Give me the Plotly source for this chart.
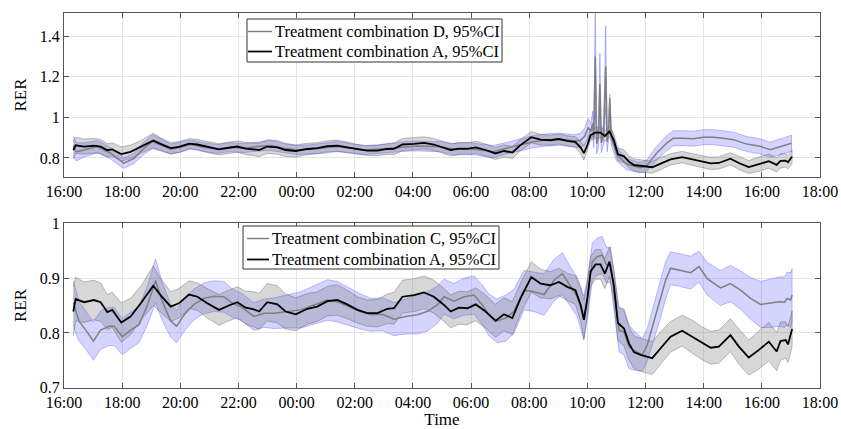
import numpy as np
import pandas as pd
import plotly.graph_objects as go

# ---------------- data (hours after 16:00 on day 1) ----------------
t_A = [0.32, 0.40, 0.69, 1.03, 1.26, 1.49, 1.66, 1.97, 2.29, 2.64, 3.07, 3.32, 3.67, 3.95, 4.30,
       4.59, 4.93, 5.33, 5.67, 5.96, 6.25, 6.53, 6.71, 6.99, 7.34, 7.62, 7.97, 8.37, 8.71, 9.06,
       9.40, 9.74, 10.09, 10.43, 10.78, 11.12, 11.35, 11.64, 12.04, 12.38, 12.72, 13.07, 13.30,
       13.58, 13.87, 14.16, 14.50, 14.84, 15.13, 15.42, 15.70, 16.07, 16.39, 16.73, 17.02, 17.31,
       17.59, 17.77, 17.88, 18.00, 18.11, 18.28, 18.45, 18.60, 18.76, 18.91, 19.05, 19.26, 19.43,
       19.60, 19.83, 20.23, 20.52, 20.86, 21.26, 21.61, 21.95, 22.24, 22.52, 22.92, 23.21, 23.55,
       23.90, 24.24, 24.51, 24.64, 24.82, 24.90, 25.04]
rer_A = [0.839, 0.862, 0.856, 0.860, 0.856, 0.838, 0.842, 0.819, 0.830, 0.854, 0.886, 0.869, 0.848,
         0.854, 0.870, 0.866, 0.854, 0.842, 0.850, 0.856, 0.846, 0.843, 0.839, 0.856, 0.852, 0.839,
         0.834, 0.844, 0.848, 0.858, 0.860, 0.852, 0.842, 0.836, 0.836, 0.844, 0.845, 0.866, 0.869,
         0.874, 0.866, 0.851, 0.839, 0.846, 0.845, 0.852, 0.839, 0.822, 0.834, 0.827, 0.863, 0.902,
         0.890, 0.887, 0.893, 0.884, 0.878, 0.851, 0.824, 0.863, 0.912, 0.925, 0.925, 0.908, 0.930,
         0.887, 0.818, 0.808, 0.781, 0.765, 0.760, 0.754, 0.772, 0.793, 0.804, 0.793, 0.781, 0.773,
         0.775, 0.796, 0.775, 0.755, 0.769, 0.784, 0.766, 0.785, 0.787, 0.779, 0.807]
ci_A = [0.045, 0.040, 0.037, 0.036, 0.035, 0.032, 0.032, 0.036, 0.033, 0.031, 0.036, 0.030, 0.027,
        0.027, 0.025, 0.025, 0.027, 0.028, 0.028, 0.028, 0.030, 0.032, 0.033, 0.034, 0.034, 0.032,
        0.030, 0.028, 0.027, 0.027, 0.028, 0.026, 0.024, 0.024, 0.025, 0.027, 0.029, 0.030, 0.030,
        0.030, 0.030, 0.030, 0.030, 0.030, 0.030, 0.030, 0.030, 0.030, 0.030, 0.030, 0.028, 0.028,
        0.026, 0.025, 0.025, 0.025, 0.026, 0.030, 0.035, 0.030, 0.027, 0.027, 0.027, 0.027, 0.027,
        0.030, 0.032, 0.032, 0.030, 0.030, 0.030, 0.030, 0.030, 0.028, 0.028, 0.030, 0.030, 0.030,
        0.030, 0.030, 0.032, 0.032, 0.035, 0.035, 0.035, 0.035, 0.033, 0.033, 0.033]

t_C = [0.32, 0.40, 0.52, 0.75, 1.01, 1.26, 1.55, 1.72, 2.01, 2.29, 2.58, 2.87, 3.15, 3.38, 3.67,
       3.87, 4.13, 4.47, 4.81, 5.16, 5.50, 5.79, 6.08, 6.53, 6.88, 7.22, 7.68, 8.14, 8.60, 9.06,
       9.40, 9.80, 10.20, 10.55, 10.95, 11.35, 11.75, 12.15, 12.49, 12.84, 13.07, 13.41, 13.76,
       14.10, 14.39, 14.61, 14.90, 15.19, 15.47, 15.82, 16.16, 16.51, 16.85, 17.14, 17.42, 17.65,
       17.88, 18.02, 18.17, 18.34, 18.51, 18.66, 18.80, 18.94, 19.09, 19.26, 19.43, 19.60, 19.89,
       20.06, 20.29, 20.52, 20.69, 20.86, 21.15, 21.55, 21.84, 22.12, 22.58, 22.92, 23.27, 23.61,
       23.96, 24.30, 24.59, 24.78, 24.87, 24.99, 25.04]
rer_C = [0.855, 0.840, 0.821, 0.805, 0.785, 0.805, 0.812, 0.812, 0.793, 0.805, 0.815, 0.851, 0.895,
         0.857, 0.822, 0.812, 0.833, 0.852, 0.863, 0.867, 0.866, 0.854, 0.848, 0.830, 0.836, 0.836,
         0.839, 0.842, 0.851, 0.860, 0.857, 0.848, 0.839, 0.833, 0.834, 0.825, 0.830, 0.833, 0.839,
         0.851, 0.866, 0.858, 0.866, 0.869, 0.851, 0.833, 0.822, 0.827, 0.839, 0.878, 0.875, 0.870,
         0.896, 0.908, 0.884, 0.866, 0.827, 0.869, 0.930, 0.939, 0.942, 0.924, 0.924, 0.869, 0.805,
         0.802, 0.775, 0.768, 0.760, 0.778, 0.821, 0.863, 0.896, 0.918, 0.915, 0.910, 0.921, 0.899,
         0.882, 0.890, 0.878, 0.863, 0.852, 0.854, 0.857, 0.856, 0.863, 0.860, 0.869]
ci_C = [0.040, 0.040, 0.036, 0.035, 0.035, 0.035, 0.035, 0.035, 0.033, 0.033, 0.033, 0.036, 0.040,
        0.035, 0.030, 0.030, 0.030, 0.028, 0.028, 0.028, 0.028, 0.026, 0.025, 0.025, 0.026, 0.028,
        0.030, 0.033, 0.035, 0.037, 0.037, 0.035, 0.032, 0.030, 0.030, 0.030, 0.032, 0.035, 0.036,
        0.034, 0.032, 0.032, 0.034, 0.035, 0.036, 0.038, 0.040, 0.042, 0.040, 0.036, 0.036, 0.038,
        0.038, 0.038, 0.036, 0.036, 0.040, 0.036, 0.034, 0.034, 0.034, 0.032, 0.032, 0.036, 0.040,
        0.042, 0.040, 0.036, 0.030, 0.030, 0.033, 0.035, 0.034, 0.030, 0.030, 0.030, 0.028, 0.030,
        0.032, 0.033, 0.035, 0.038, 0.042, 0.044, 0.045, 0.046, 0.048, 0.050, 0.048]

t_D = [0.32, 0.42, 0.69, 1.15, 1.60, 1.89, 2.06, 2.41, 2.75, 3.04, 3.32, 3.67, 4.01, 4.36, 4.81,
       5.27, 5.73, 6.19, 6.65, 7.11, 7.57, 8.02, 8.48, 8.94, 9.40, 9.86, 10.32, 10.78, 11.23, 11.69,
       12.15, 12.61, 12.93, 13.39, 13.85, 14.31, 14.76, 15.22, 15.68, 16.14, 16.60, 17.06, 17.52,
       17.75, 17.90, 18.03, 18.12, 18.18, 18.22, 18.27, 18.32, 18.38, 18.43, 18.48, 18.56, 18.63,
       18.68, 18.73, 18.77, 18.82, 18.90, 19.00, 19.20, 19.35, 19.58, 19.81, 20.04, 20.38, 20.72,
       20.95, 21.30, 21.64, 21.99, 22.33, 22.67, 23.02, 23.48, 23.93, 24.28, 24.51, 24.85, 25.02]
rer_D = [0.860, 0.830, 0.839, 0.856, 0.823, 0.790, 0.774, 0.798, 0.848, 0.880, 0.864, 0.843, 0.853,
         0.866, 0.853, 0.844, 0.853, 0.848, 0.856, 0.861, 0.848, 0.839, 0.843, 0.848, 0.856, 0.848,
         0.839, 0.843, 0.848, 0.856, 0.859, 0.856, 0.856, 0.843, 0.848, 0.839, 0.831, 0.848, 0.864,
         0.880, 0.889, 0.892, 0.885, 0.885, 0.905, 0.950, 0.930, 0.970, 0.900, 1.300, 0.870, 0.900,
         1.165, 0.875, 0.920, 1.250, 0.880, 0.930, 1.095, 0.905, 0.870, 0.820, 0.790, 0.770, 0.760,
         0.752, 0.762, 0.823, 0.872, 0.897, 0.897, 0.895, 0.902, 0.902, 0.897, 0.890, 0.868, 0.858,
         0.840, 0.850, 0.865, 0.872]
ci_D = [0.050, 0.045, 0.035, 0.030, 0.028, 0.026, 0.025, 0.025, 0.030, 0.035, 0.030, 0.025, 0.025,
        0.022, 0.022, 0.022, 0.022, 0.022, 0.022, 0.025, 0.022, 0.022, 0.022, 0.025, 0.025, 0.022,
        0.022, 0.022, 0.022, 0.024, 0.024, 0.024, 0.025, 0.028, 0.028, 0.030, 0.030, 0.028, 0.030,
        0.030, 0.030, 0.030, 0.030, 0.035, 0.040, 0.045, 0.040, 0.060, 0.050, 0.250, 0.050, 0.050,
        0.150, 0.050, 0.050, 0.200, 0.050, 0.040, 0.020, 0.040, 0.040, 0.035, 0.030, 0.028, 0.026,
        0.026, 0.028, 0.035, 0.037, 0.037, 0.037, 0.037, 0.037, 0.037, 0.037, 0.037, 0.037, 0.037,
        0.037, 0.038, 0.040, 0.040]

labels_top = ["Treatment combination D, 95%CI", "Treatment combination A, 95%CI"]
labels_bot = ["Treatment combination C, 95%CI", "Treatment combination A, 95%CI"]

yticks_top = [0.8, 1.0, 1.2, 1.4]
yticklabels_top = ["0.8", "1", "1.2", "1.4"]
yticks_bot = [0.7, 0.8, 0.9, 1.0]
yticklabels_bot = ["0.7", "0.8", "0.9", "1"]

# ---------------- helpers ----------------
BASE = pd.Timestamp("2000-01-01 16:00")
FONT = "Liberation Serif, Times New Roman, serif"


def to_time(h):
    return BASE + pd.to_timedelta(np.asarray(h, dtype=float), unit="h")


def band(t, m, hw, fill, edge, xa, ya):
    t = np.asarray(t, float)
    m = np.asarray(m, float)
    hw = np.asarray(hw, float)
    x = to_time(np.concatenate([t, t[::-1]]))
    y = np.concatenate([m + hw, (m - hw)[::-1]])
    return go.Scatter(x=x, y=y, mode="lines", fill="toself", fillcolor=fill,
                      line=dict(color=edge, width=0.7), hoverinfo="skip",
                      showlegend=False, xaxis=xa, yaxis=ya)


def line(t, m, color, width, name, xa, ya):
    return go.Scatter(x=to_time(t), y=m, mode="lines", line=dict(color=color, width=width),
                      name=name, xaxis=xa, yaxis=ya, showlegend=False)


BLUE_FILL = "rgba(60,60,255,0.22)"
BLUE_EDGE = "rgba(60,60,255,0.45)"
GRAY_FILL = "rgba(110,110,110,0.28)"
GRAY_EDGE = "rgba(60,60,60,0.45)"
GRAY_LINE = "#7f7f7f"
W_GRAY, W_BLACK = 1.5, 1.8

fig = go.Figure()
# top panel
fig.add_trace(band(t_D, rer_D, ci_D, BLUE_FILL, BLUE_EDGE, "x", "y"))
fig.add_trace(band(t_A, rer_A, ci_A, GRAY_FILL, GRAY_EDGE, "x", "y"))
fig.add_trace(line(t_D, rer_D, GRAY_LINE, W_GRAY, labels_top[0], "x", "y"))
fig.add_trace(line(t_A, rer_A, "black", W_BLACK, labels_top[1], "x", "y"))
# bottom panel
fig.add_trace(band(t_C, rer_C, ci_C, BLUE_FILL, BLUE_EDGE, "x2", "y2"))
fig.add_trace(band(t_A, rer_A, ci_A, GRAY_FILL, GRAY_EDGE, "x2", "y2"))
fig.add_trace(line(t_C, rer_C, GRAY_LINE, W_GRAY, labels_bot[0], "x2", "y2"))
fig.add_trace(line(t_A, rer_A, "black", W_BLACK, labels_bot[1], "x2", "y2"))


# ---------------- legends (MATLAB-style boxes, paper coordinates) ----------------
def legend_box(box, rows_y, line_x, text_x, labels, colors, widths):
    shapes = [dict(type="rect", xref="paper", yref="paper", x0=box[0], x1=box[1],
                   y0=box[2], y1=box[3], fillcolor="white",
                   line=dict(color="#333333", width=1), layer="above")]
    annots = []
    for yy, lab, col, w in zip(rows_y, labels, colors, widths):
        shapes.append(dict(type="line", xref="paper", yref="paper", x0=line_x[0], x1=line_x[1],
                           y0=yy, y1=yy, line=dict(color=col, width=w), layer="above"))
        annots.append(dict(xref="paper", yref="paper", x=text_x, y=yy, text=lab,
                           showarrow=False, xanchor="left", yanchor="middle",
                           font=dict(family=FONT, size=16.5, color="black")))
    return shapes, annots


s1, a1 = legend_box([0.2421, 0.5794, 0.8693, 0.984], [0.9507, 0.8973], [0.2434, 0.2751], 0.2765,
                    labels_top, [GRAY_LINE, "black"], [W_GRAY, W_BLACK])
s2, a2 = legend_box([0.2368, 0.5754, 0.3173, 0.432], [0.3987, 0.3427], [0.2421, 0.2712], 0.2725,
                    labels_bot, [GRAY_LINE, "black"], [W_GRAY, W_BLACK])

xrange = [BASE, BASE + pd.Timedelta(hours=26)]
common_x = dict(type="date", range=xrange, dtick=2 * 3600 * 1000, tick0=BASE,
                tickformat="%H:%M", showgrid=True, gridcolor="#e6e6e6", gridwidth=1,
                showline=True, linecolor="#555555", linewidth=1, mirror="ticks",
                ticks="inside", ticklen=5, tickcolor="#555555", zeroline=False,
                automargin=False,
                tickfont=dict(family=FONT, size=16, color="black"))
common_y = dict(showgrid=True, gridcolor="#e6e6e6", gridwidth=1,
                showline=True, linecolor="#555555", linewidth=1, mirror="ticks",
                ticks="inside", ticklen=5, tickcolor="#555555", zeroline=False,
                automargin=False,
                tickfont=dict(family=FONT, size=16, color="black"),
                title=dict(text="RER", font=dict(family=FONT, size=17, color="black"), standoff=8))

fig.update_layout(
    width=841, height=429,
    margin=dict(l=64, r=21, t=13, b=41),
    paper_bgcolor="white", plot_bgcolor="white",
    font=dict(family=FONT, size=16, color="black"),
    xaxis=dict(common_x, domain=[0, 1], anchor="y"),
    yaxis=dict(common_y, domain=[0.5627, 1.0], anchor="x", range=[0.706, 1.514],
               tickvals=yticks_top, ticktext=yticklabels_top),
    xaxis2=dict(common_x, domain=[0, 1], anchor="y2",
                title=dict(text="Time", font=dict(family=FONT, size=17, color="black"), standoff=4)),
    yaxis2=dict(common_y, domain=[0.0, 0.44], anchor="x2", range=[0.6995, 1.0005],
                tickvals=yticks_bot, ticktext=yticklabels_bot),
    shapes=s1 + s2,
    annotations=a1 + a2,
    showlegend=False,
)

fig.write_html("out.html", config={"displayModeBar": False},
               post_script="document.body.style.margin='0';")
